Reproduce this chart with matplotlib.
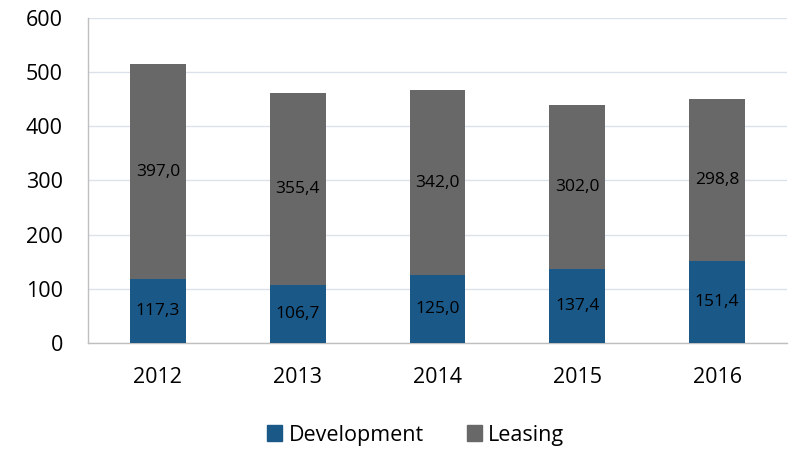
import matplotlib.pyplot as plt
from matplotlib.patches import Patch

plt.rcParams['font.family'] = ['Open Sans', 'DejaVu Sans']

years = ['2012', '2013', '2014', '2015', '2016']
development = [117.3, 106.7, 125.0, 137.4, 151.4]
leasing = [397.0, 355.4, 342.0, 302.0, 298.8]

blue = '#1A5888'
grey = '#686868'

fig = plt.figure(figsize=(7.89, 4.49), dpi=100)
ax = fig.add_axes([88 / 789, 1 - 343 / 449, 699 / 789, 325 / 449])

x = range(len(years))
b1 = ax.bar(x, development, width=0.4, color=blue, zorder=3)
b2 = ax.bar(x, leasing, width=0.4, bottom=development, color=grey, zorder=3)

# data labels with comma decimals, centred in each segment
for i in x:
    ax.text(i, development[i] / 2, f'{development[i]:.1f}'.replace('.', ','),
            ha='center', va='center', fontsize=12.5, color='black', zorder=4)
    ax.text(i, development[i] + leasing[i] / 2, f'{leasing[i]:.1f}'.replace('.', ','),
            ha='center', va='center', fontsize=12.5, color='black', zorder=4)

ax.set_xlim(-0.5, 4.5)
ax.set_ylim(0, 600)
ax.set_yticks(range(0, 601, 100))
ax.set_xticks(list(x))
ax.set_xticklabels(years)
ax.tick_params(axis='both', length=0, labelsize=15.5)
ax.tick_params(axis='y', pad=18)
ax.tick_params(axis='x', pad=17)

ax.grid(axis='y', color='#DCE2EA', linewidth=1, zorder=0)
for s in ['top', 'right']:
    ax.spines[s].set_visible(False)
for s in ['left', 'bottom']:
    ax.spines[s].set_color('#BFBFBF')
    ax.spines[s].set_linewidth(1)

handles = [Patch(color=blue, label='Development'), Patch(color=grey, label='Leasing')]
fig.legend(handles=handles, loc='center', bbox_to_anchor=(0.527, 1 - 435 / 449), ncol=2,
           frameon=False, fontsize=15.5, handlelength=0.7, handleheight=0.7,
           handletextpad=0.3, columnspacing=2.0)

fig.savefig('out.png', dpi=100)
